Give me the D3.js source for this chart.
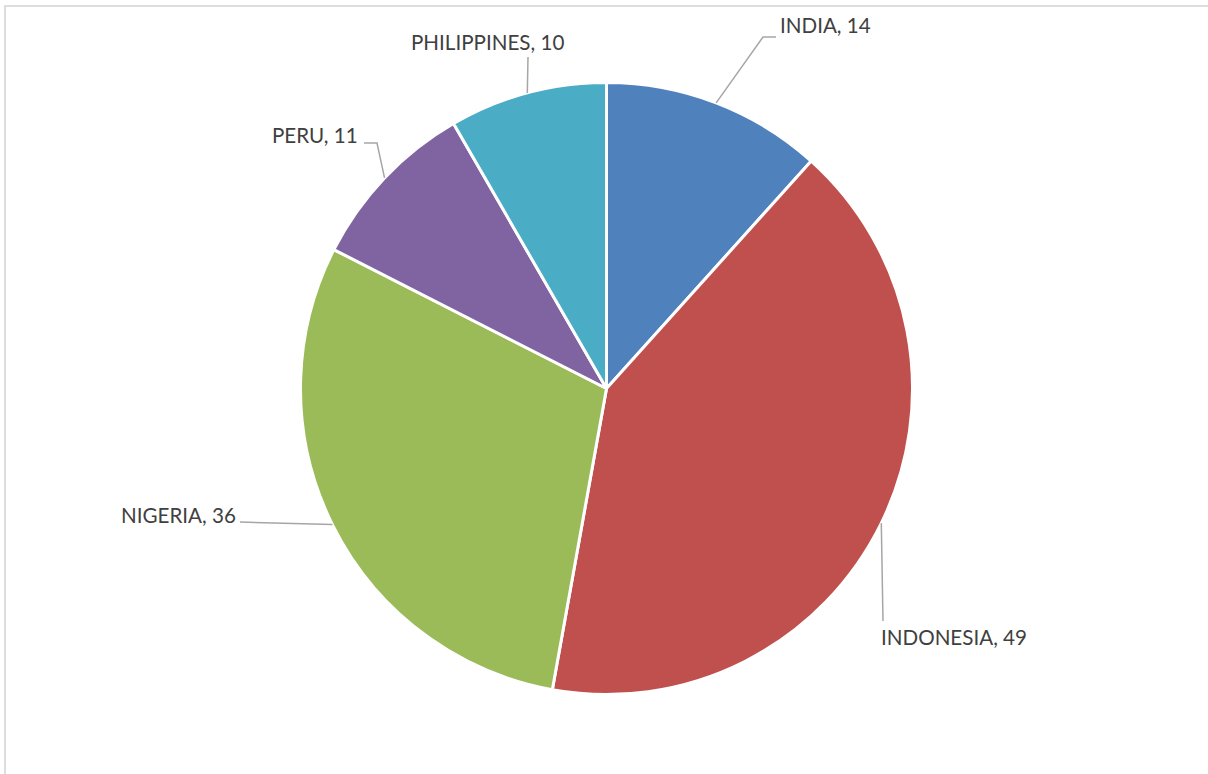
<!DOCTYPE html>
<html>
<head>
<meta charset="utf-8">
<script src="https://cdn.jsdelivr.net/npm/d3@7/dist/d3.min.js"></script>
<style>
  html, body { margin: 0; padding: 0; background: #fff; }
  svg { display: block; }
</style>
</head>
<body>
<svg id="chart" width="1208" height="774"></svg>
<script>
// ---- data ----
const categories = ["INDIA", "INDONESIA", "NIGERIA", "PERU", "PHILIPPINES"];
const values = [14, 49.4, 35.6, 11, 10];
const colors = ["#4F81BD", "#C0504D", "#9BBB59", "#8064A2", "#4BACC6"];

// ---- layout (label placement, not data) ----
const cx = 606.5, cy = 388.5, radius = 306;
// leader line: elbow points and text anchor (baseline) for each label
const labelLayout = [
  { pts: [[763, 37], [776, 37]], tx: 780, ty: 33 },
  { pts: [[883, 621]], tx: 881, ty: 645 },
  { pts: [[240, 522]], tx: 121, ty: 523 },
  { pts: [[377, 143], [364, 143]], tx: 272, ty: 143 },
  { pts: [[528, 57]], tx: 411, ty: 50 }
];

const svg = d3.select("#chart");

// chart area border
svg.append("rect")
  .attr("x", 5).attr("y", 6)
  .attr("width", 1400).attr("height", 1000)
  .attr("fill", "none")
  .attr("stroke", "#d9d9d9")
  .attr("stroke-width", 1.75);

const data = categories.map((c, i) => ({ name: c, value: values[i], color: colors[i] }));
const fmt = d3.format(".0f");

const pie = d3.pie().sort(null).value(d => d.value).startAngle(0).endAngle(2 * Math.PI);
const arcs = pie(data);
const arc = d3.arc().innerRadius(0).outerRadius(radius);

const g = svg.append("g").attr("transform", `translate(${cx},${cy})`);

g.selectAll("path.slice")
  .data(arcs)
  .enter().append("path")
  .attr("class", "slice")
  .attr("d", arc)
  .attr("fill", d => d.data.color)
  .attr("stroke", "#ffffff")
  .attr("stroke-width", 3)
  .attr("stroke-linejoin", "round");

// leader lines from mid-angle point on the pie edge
const line = d3.line();
arcs.forEach((a, i) => {
  const mid = (a.startAngle + a.endAngle) / 2;
  const ex = cx + radius * Math.sin(mid);
  const ey = cy - radius * Math.cos(mid);
  const L = labelLayout[i];
  const pts = [[ex, ey]].concat(L.pts);
  svg.append("path")
    .attr("d", line(pts))
    .attr("fill", "none")
    .attr("stroke", "#a6a6a6")
    .attr("stroke-width", 1.5);
  svg.append("text")
    .attr("x", L.tx).attr("y", L.ty)
    .attr("text-anchor", "start")
    .attr("font-family", "Lato, 'Open Sans', sans-serif")
    .attr("font-size", 20.6)
    .attr("fill", "#404040")
    .text(`${a.data.name}, ${fmt(a.data.value)}`);
});
</script>
</body>
</html>
